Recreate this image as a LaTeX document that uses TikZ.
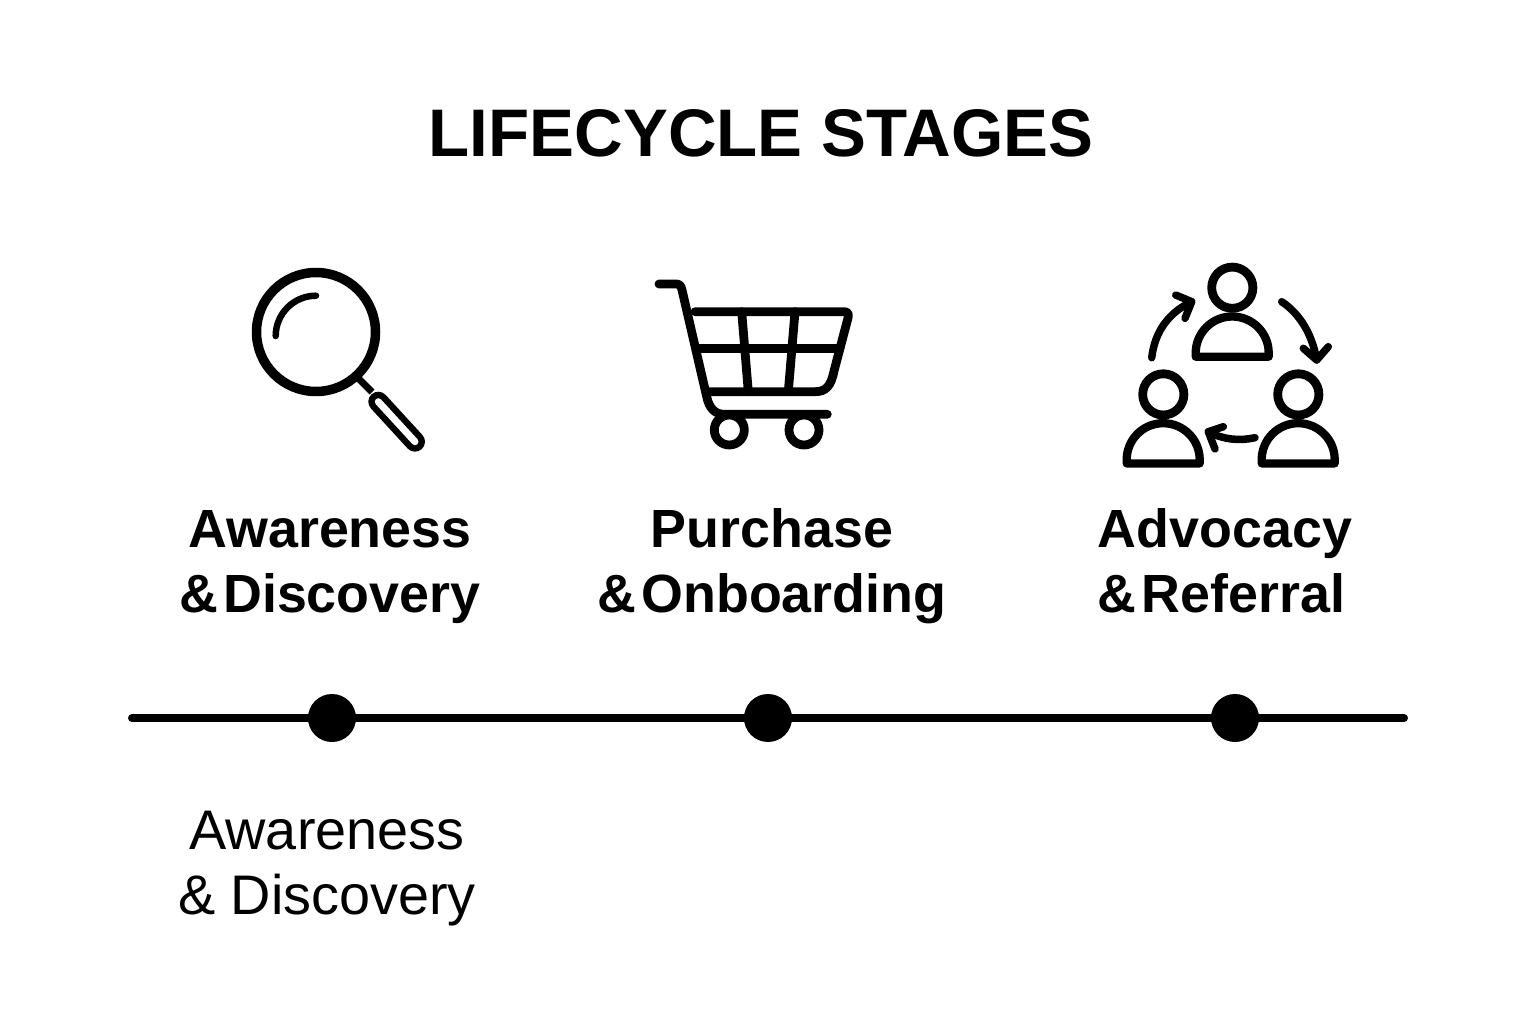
\documentclass[tikz,border=0pt]{standalone}
\usepackage{fontspec}
\setmainfont{Liberation Sans}
\newcommand{\tightamp}{\&\hspace{-10pt} }
\tikzset{
    icon/.style={line width=8.8pt, line cap=round, line join=round},
    headlabel/.style={font=\fontsize{53.8}{65}\selectfont\bfseries, align=center, anchor=base},
    subLabel/.style={font=\fontsize{55.8}{65}\selectfont, align=center, anchor=base},
    stage/.style={shape=circle, fill=black, minimum size=48pt, inner sep=0pt},
}
\begin{document}
\begin{tikzpicture}[x=1pt, y=-1pt]
    \useasboundingbox (0,0) rectangle (1536,1024);

    \node[font=\fontsize{67.3}{70}\selectfont\bfseries] (title) at (761,133) {LIFECYCLE STAGES};

    % magnifier
    \draw[icon, line width=9.5pt] (316,332) circle (59.5);
    \draw[icon, line width=6.5pt] (275.7,336) arc (180:270:40.3);
    \draw[icon, line width=7pt, line cap=butt] (358,378) -- (372,392);
    \draw[icon, line width=20pt] (378.3,401.7) -- (415,441.7);
    \draw[icon, line width=7pt, white] (378.3,401.7) -- (415,441.7);

    % cart
    \draw[icon] (659,284) -- (676,284) .. controls (680,284) and (681,286) .. (682,290)
        -- (706.7,396.7) .. controls (709,408) and (715,414.3) .. (724,414.3) -- (827.3,414.3);
    \draw[icon] (695,311.7) -- (844,311.7) .. controls (848,311.7) and (849,314) .. (848,318)
        -- (834,371) .. controls (831,386) and (826,391.7) .. (815,391.7) -- (708.3,391.7);
    \draw[icon] (700,348.3) -- (840,348.3);
    \draw[icon] (741.7,311.7) -- (748.3,391.7);
    \draw[icon] (795,311.7) -- (788.3,391.7);
    \draw[icon] (729.3,430) circle (15);
    \draw[icon] (804,430) circle (15);

    % three people
    \foreach \px/\py in {0/0, -69/106.7, 66/106.7} {
        \begin{scope}[shift={(\px,\py)}]
            \draw[icon] (1232.3,287.7) circle (20.6);
            \draw[icon, line width=8.3pt] (1195.7,356.7) -- (1195.7,353)
                arc (180:360:36.5) -- (1268.7,356.7) -- cycle;
        \end{scope}
    }
    \draw[icon, line width=7.5pt] (1151.7,357.7) .. controls (1155,330) and (1170,312) .. (1191.7,301.7);
    \draw[icon, line width=7.5pt] (1175.7,295) -- (1191.7,301.7) -- (1185,318.3);
    \draw[icon, line width=7.5pt] (1281.7,301.7) .. controls (1300,314) and (1312,334) .. (1316.7,360);
    \draw[icon, line width=7.5pt] (1303.3,348.3) -- (1316.7,360) -- (1328.3,346.7);
    \draw[icon, line width=7.5pt] (1255,437.7) .. controls (1240,441) and (1224,440) .. (1208.3,431.7);
    \draw[icon, line width=7.5pt] (1223.3,426.7) -- (1208.3,431.7) -- (1215,449);

    \node[headlabel] (awareness) at (330,612) {Awareness\\\tightamp Discovery};
    \node[headlabel] (purchase) at (772,612) {Purchase\\\tightamp Onboarding};
    \node[headlabel, align=left] (advocacy) at (1225,612) {Advocacy\\\tightamp Referral};

    \coordinate (lineL) at (132,718);
    \coordinate (lineR) at (1404,718);
    \draw[line width=8pt, line cap=round] (lineL) -- (lineR);
    \node[stage] (dotA) at (332,718) {};
    \node[stage] (dotB) at (768,718) {};
    \node[stage] (dotC) at (1235,718) {};

    \node[subLabel] (awarenessB) at (327,914) {Awareness\\\& Discovery};
\end{tikzpicture}
\end{document}
